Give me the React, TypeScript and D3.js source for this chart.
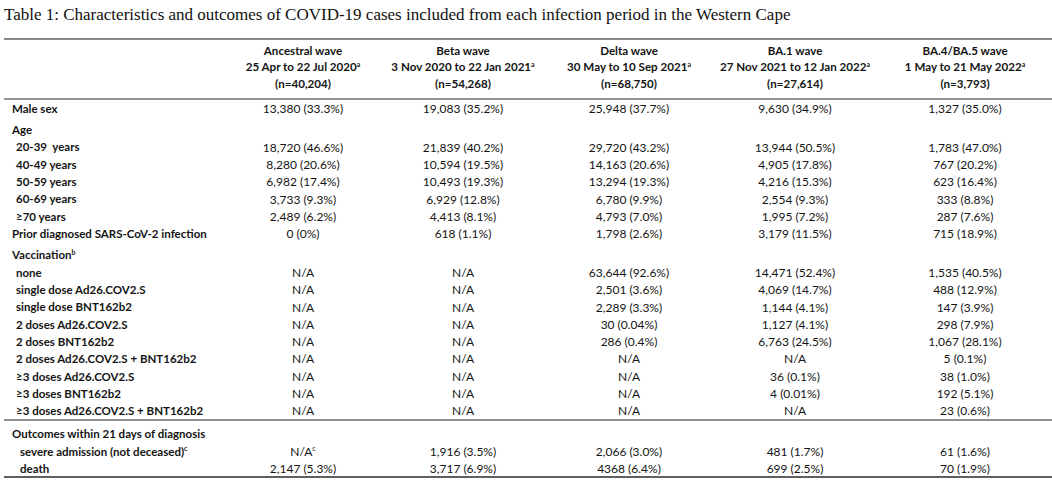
import React from "react";
import * as d3 from "d3";

const title =
  "Table 1: Characteristics and outcomes of COVID-19 cases included from each infection period in the Western Cape";

const waves = ["Ancestral wave", "Beta wave", "Delta wave", "BA.1 wave", "BA.4/BA.5 wave"];
const periods = [
  "25 Apr to 22 Jul 2020",
  "3 Nov 2020 to 22 Jan 2021",
  "30 May to 10 Sep 2021",
  "27 Nov 2021 to 12 Jan 2022",
  "1 May to 21 May 2022",
];
const periodNote = "a";
const sampleSizes = ["(n=40,204)", "(n=54,268)", "(n=68,750)", "(n=27,614)", "(n=3,793)"];

const rowLabels = [
  "Male sex",
  "Age",
  "20-39  years",
  "40-49 years",
  "50-59 years",
  "60-69 years",
  "≥70 years",
  "Prior diagnosed SARS-CoV-2 infection",
  "Vaccination",
  "none",
  "single dose Ad26.COV2.S",
  "single dose BNT162b2",
  "2 doses Ad26.COV2.S",
  "2 doses BNT162b2",
  "2 doses Ad26.COV2.S + BNT162b2",
  "≥3 doses Ad26.COV2.S",
  "≥3 doses BNT162b2",
  "≥3 doses Ad26.COV2.S + BNT162b2",
  "Outcomes within 21 days of diagnosis",
  "severe admission (not deceased)",
  "death",
];
const rowNotes = ["", "", "", "", "", "", "", "", "b", "", "", "", "", "", "", "", "", "", "", "c", ""];
// 0 = main row, 1 = group heading, 2 = sub row (age / vaccination), 3 = outcome sub row
const rowLevels = [0, 1, 2, 2, 2, 2, 2, 0, 1, 2, 2, 2, 2, 2, 2, 2, 2, 2, 1, 3, 3];

const ancestral = [
  "13,380 (33.3%)", "", "18,720 (46.6%)", "8,280 (20.6%)", "6,982 (17.4%)", "3,733 (9.3%)", "2,489 (6.2%)", "0 (0%)",
  "", "N/A", "N/A", "N/A", "N/A", "N/A", "N/A", "N/A", "N/A", "N/A",
  "", "N/A^c", "2,147 (5.3%)",
];
const beta = [
  "19,083 (35.2%)", "", "21,839 (40.2%)", "10,594 (19.5%)", "10,493 (19.3%)", "6,929 (12.8%)", "4,413 (8.1%)", "618 (1.1%)",
  "", "N/A", "N/A", "N/A", "N/A", "N/A", "N/A", "N/A", "N/A", "N/A",
  "", "1,916 (3.5%)", "3,717 (6.9%)",
];
const delta = [
  "25,948 (37.7%)", "", "29,720 (43.2%)", "14,163 (20.6%)", "13,294 (19.3%)", "6,780 (9.9%)", "4,793 (7.0%)", "1,798 (2.6%)",
  "", "63,644 (92.6%)", "2,501 (3.6%)", "2,289 (3.3%)", "30 (0.04%)", "286 (0.4%)", "N/A", "N/A", "N/A", "N/A",
  "", "2,066 (3.0%)", "4368 (6.4%)",
];
const ba1 = [
  "9,630 (34.9%)", "", "13,944 (50.5%)", "4,905 (17.8%)", "4,216 (15.3%)", "2,554 (9.3%)", "1,995 (7.2%)", "3,179 (11.5%)",
  "", "14,471 (52.4%)", "4,069 (14.7%)", "1,144 (4.1%)", "1,127 (4.1%)", "6,763 (24.5%)", "N/A", "36 (0.1%)", "4 (0.01%)", "N/A",
  "", "481 (1.7%)", "699 (2.5%)",
];
const ba45 = [
  "1,327 (35.0%)", "", "1,783 (47.0%)", "767 (20.2%)", "623 (16.4%)", "333 (8.8%)", "287 (7.6%)", "715 (18.9%)",
  "", "1,535 (40.5%)", "488 (12.9%)", "147 (3.9%)", "298 (7.9%)", "1,067 (28.1%)", "5 (0.1%)", "38 (1.0%)", "192 (5.1%)", "23 (0.6%)",
  "", "61 (1.6%)", "70 (1.9%)",
];
const columns = [ancestral, beta, delta, ba1, ba45];

const W = 1052;
const H = 483;
const FONT = "Lato, 'Noto Sans', sans-serif";

function Cell({
  x,
  y,
  text,
  anchor,
  bold,
  size,
}: {
  x: number;
  y: number;
  text: string;
  anchor: string;
  bold?: boolean;
  size: number;
}) {
  const [main, note] = text.split("^");
  return (
    <text
      x={x}
      y={y}
      dy="0.36em"
      textAnchor={anchor}
      fontFamily={FONT}
      fontSize={size}
      fontWeight={bold ? 700 : 400}
      fill="#141414"
      style={{ whiteSpace: "pre" }}
    >
      {main}
      {note ? (
        <tspan fontSize={size * 0.6} dy={-4.5}>
          {note}
        </tspan>
      ) : null}
    </text>
  );
}

export default function App() {
  const x = d3.scaleOrdinal<string, number>().domain(waves).range([303, 463, 629, 795, 965]);

  // vertical layout: a slot per row, extra space before group headings
  const step = 17.3;
  const rowY: number[] = [];
  let acc = 108.5;
  rowLabels.forEach((_, i) => {
    if (i > 0) {
      acc += step;
      if (rowLevels[i] === 1) acc += i === 18 ? 6 : 4.2;
    }
    rowY.push(acc);
  });
  const y = d3.scaleOrdinal<string, number>().domain(rowLabels).range(rowY);
  const indent = d3.scaleOrdinal<number, number>().domain([0, 1, 2, 3]).range([12, 12, 16, 20]);

  const headerY = d3.scalePoint<number>().domain([0, 1, 2]).range([50.5, 84]);

  return (
    <svg width={W} height={H} style={{ position: "absolute", left: 0, top: 0, background: "#fff" }}>
      <text x={4} y={20} fontFamily="'Liberation Serif', 'Times New Roman', serif" fontSize={17} fill="#111">
        {title}
      </text>

      <line x1={4} x2={W} y1={39} y2={39} stroke="#8a8a8a" strokeWidth={2} />
      <line x1={4} x2={W} y1={99} y2={99} stroke="#2a2a2a" strokeWidth={1.2} />
      <line x1={4} x2={W} y1={420} y2={420} stroke="#6a6a6a" strokeWidth={1.5} />
      <line x1={4} x2={W} y1={477} y2={477} stroke="#2a2a2a" strokeWidth={1.5} />

      {waves.map((w, i) => (
        <g key={w}>
          <Cell x={x(w)} y={headerY(0)!} text={w} anchor="middle" bold size={11.6} />
          <Cell x={x(w)} y={headerY(1)!} text={periods[i] + "^" + periodNote} anchor="middle" bold size={11.6} />
          <Cell x={x(w)} y={headerY(2)!} text={sampleSizes[i]} anchor="middle" bold size={11.6} />
        </g>
      ))}

      {rowLabels.map((label, r) => (
        <g key={label + r}>
          <Cell
            x={indent(rowLevels[r])}
            y={y(label)}
            text={rowNotes[r] ? label + "^" + rowNotes[r] : label}
            anchor="start"
            bold
            size={11.5}
          />
          {columns.map((col, c) =>
            col[r] ? <Cell key={c} x={x(waves[c])} y={y(label)} text={col[r]} anchor="middle" size={12} /> : null
          )}
        </g>
      ))}
    </svg>
  );
}
